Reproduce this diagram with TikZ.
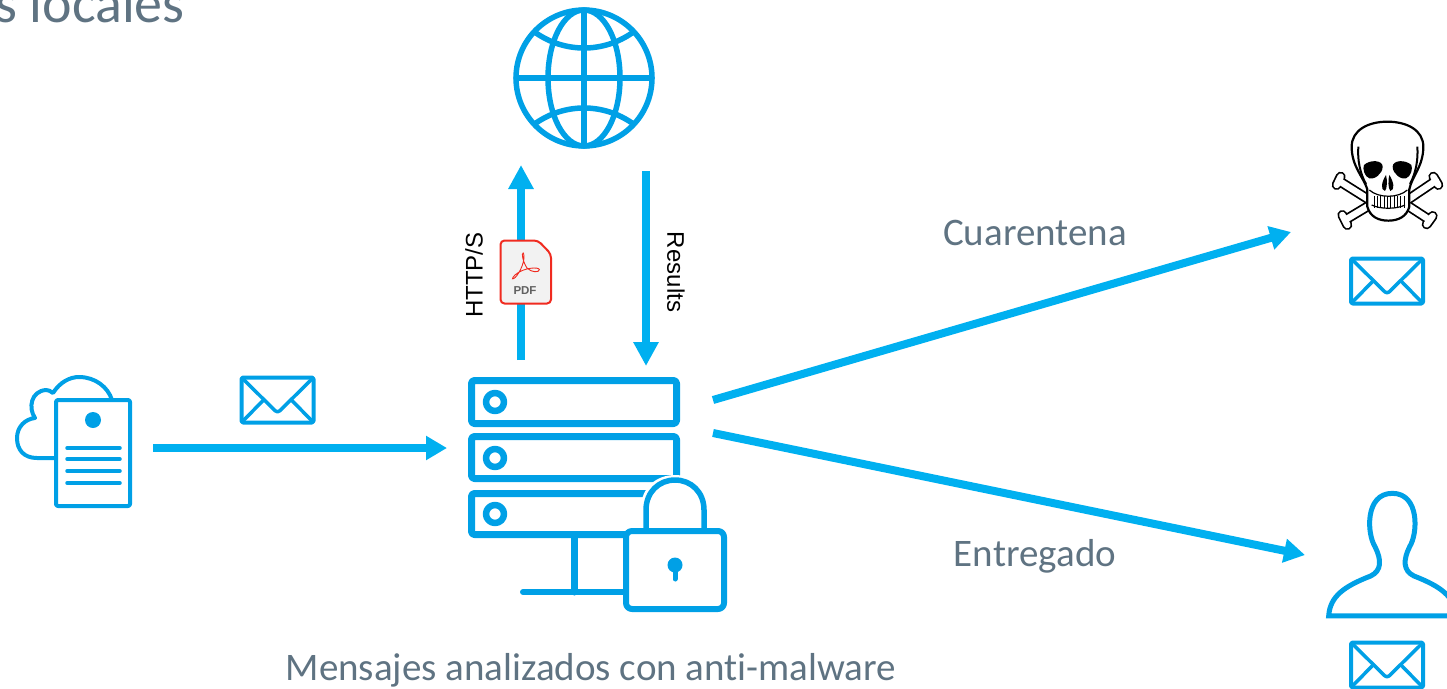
\documentclass[tikz,border=0pt]{standalone}
\usepackage{fontspec}
\setmainfont[Ligatures=NoCommon]{Carlito}
\newfontfamily\arialfont{Liberation Sans}
\usetikzlibrary{arrows.meta}
\definecolor{iconblue}{HTML}{00A0E6}
\definecolor{flowblue}{HTML}{00B0F0}
\definecolor{slategrey}{HTML}{5F7382}
\definecolor{pdfred}{HTML}{F02B20}
\def\bigtext#1{\fontsize{#1}{#1}\selectfont}

\tikzset{
  iconbox/.style={inner sep=0pt,outer sep=0pt},
  icon/.style={draw=iconblue,line join=round,line cap=round},
  flow/.style={draw=flowblue,line width=8pt,-{Triangle[length=21pt,width=23pt]}},
  tagtext/.style={text=slategrey,inner sep=0pt},
  sidetext/.style={text=black,inner sep=0pt,font=\arialfont\bigtext{24}},
  mailpic/.pic={
    \draw[icon,line width=4pt,rounded corners=1.5pt] (-36,-22.5) rectangle (36,22.5);
    \draw[icon,line width=3.5pt,rounded corners=3pt] (-35,-21.5) -- (0,13) -- (35,-21.5);
    \draw[icon,line width=3.5pt] (-35,21.5) -- (-14,0) (35,21.5) -- (14,0);
  }
}

\begin{document}
\begin{tikzpicture}[x=1pt,y=-1pt]
\useasboundingbox (0,0) rectangle (1447,688);
\clip (0,0) rectangle (1447,688);

\node[tagtext,anchor=base east,font=\bigtext{56}] (heading) at (185,23) {s locales};

% boxes the connectors hang on
\node[iconbox,minimum width=138pt,minimum height=120pt] (cloud) at (84,448) {};
\node[iconbox,minimum width=266pt,minimum height=164pt] (server) at (580,448) {};
\node[iconbox,minimum width=142pt,minimum height=174pt] (globe) at (584,78) {};
\node[iconbox,minimum width=156pt,minimum height=160pt] (skull) at (1369,232) {};
\node[iconbox,minimum width=142pt,minimum height=150pt] (person) at (1376,555) {};

\draw[flow] (cloud.east) -- (server.west);
\draw[flow,-{Triangle[length=24pt,width=24pt]}] ([xshift=-59pt,yshift=6pt]server.north) -- ([xshift=-63pt]globe.south);
\draw[flow,-{Triangle[length=24pt,width=24pt]}] ([xshift=62pt,yshift=-6pt]globe.south) -- ([xshift=66pt]server.north);
\draw[flow] ([yshift=48pt]server.east) -- (skull.west);
\draw[flow] ([yshift=15pt]server.east) -- (person.west);

% sender
\draw[icon,line width=4pt] (55,458) -- (37,458) .. controls (24,458) and (17,450) .. (17,438)
  .. controls (17,427) and (25,419) .. (35,418) .. controls (28,408) and (31,391) .. (46,390)
  .. controls (48,390) and (51,391) .. (53,393) .. controls (60,382) and (70,377) .. (79,377)
  .. controls (95,377) and (108,387) .. (112,400);
\draw[icon,line width=4pt,rounded corners=2pt] (56,400) rectangle (130,506);
\fill[iconblue] (93,420) circle (8);
\foreach \y in {448,459,471,483}
  \draw[icon,line width=3.5pt] (67,\y) -- (120,\y);
\pic at (277.5,400) {mailpic};

% globe
\begin{scope}[icon,line width=5.5pt]
  \draw (584,78) circle (68);
  \draw (584,78) ellipse (36 and 68);
  \draw (584,10) -- (584,146) (516,78) -- (652,78);
  \draw (536,33) .. controls (565,53) and (603,53) .. (632,33);
  \draw (536,123) .. controls (565,103) and (603,103) .. (632,123);
\end{scope}

% server and lock
\foreach \ya/\yb/\yc in {380.5/423.5/402,436.5/478.5/458,493.5/534.5/514}{
  \draw[icon,line width=7pt,rounded corners=3pt] (471.5,\ya) rectangle (676.5,\yb);
  \draw[icon,line width=6.5pt] (495,\yc) circle (9);
}
\draw[icon,line width=7pt] (574,538) -- (574,592);
\draw[icon,line width=6pt] (523,592) -- (640,592);
\fill[white] (641,530) -- (641,508) .. controls (641,488) and (656,475) .. (675,475)
  .. controls (694,475) and (709,488) .. (709,508) -- (709,530) -- cycle;
\draw[icon,line width=5.5pt,line cap=butt] (646,530) -- (646,510) .. controls (646,492) and (659,480) .. (675,480)
  .. controls (691,480) and (704,492) .. (704,510) -- (704,530);
\draw[icon,fill=white,line width=6pt,rounded corners=6pt] (626,531) rectangle (724,609);
\fill[iconblue] (675,565) circle (7.5);
\draw[icon,line width=5pt] (675,568) -- (675,579);

% attachment
\draw[draw=pdfred,fill=black!5,line width=2pt,rounded corners=4pt] (500.5,240.5) -- (538,240.5) -- (551,254) -- (551,303.5) -- (500.5,303.5) -- cycle;
\begin{scope}[shift={(440,160)},x=0.3333pt,y=-0.3333pt]
  \draw[pdfred,line width=0.9pt] (250,278) .. controls (243,278) and (250,310) .. (262,325)
    .. controls (275,338) and (298,338) .. (298,329) .. controls (298,320) and (250,322) .. (225,345)
    .. controls (212,358) and (218,360) .. (226,352) .. controls (240,338) and (258,300) .. (250,278);
\end{scope}
\node[iconbox,text=black!62,font=\arialfont\bfseries\bigtext{11.5}] (pdftag) at (525,291) {PDF};

\node[sidetext,rotate=90] (sendtag) at (474,275) {HTTP/S};
\node[sidetext,rotate=-90] (backtag) at (676,272) {Results};

% quarantine
\begin{scope}[shift={(1310,110)},x=0.3333pt,y=-0.3333pt]
  \foreach \ax/\ay/\bx/\by/\cx/\cy/\dx/\dy in {175/268/86/212/92/200/80/225,180/285/105/330/97/315/112/345,295/268/378/212/370/200/385/225,290/285/359/330/350/343/368/318}{
    \draw[black,line width=10pt,line cap=round] (\ax,\ay) -- (\bx,\by) (\cx,\cy) -- (\dx,\dy);
  }
  \foreach \ax/\ay/\bx/\by/\cx/\cy/\dx/\dy in {175/268/86/212/92/200/80/225,180/285/105/330/97/315/112/345,295/268/378/212/370/200/385/225,290/285/359/330/350/343/368/318}{
    \draw[white,line width=6.5pt,line cap=round] (\ax,\ay) -- (\bx,\by) (\cx,\cy) -- (\dx,\dy);
  }
  \draw[black,fill=white,line width=2.2pt] (172,238) .. controls (160,200) and (125,170) .. (125,110)
    .. controls (125,60) and (175,35) .. (232,35) .. controls (290,35) and (340,60) .. (340,110)
    .. controls (340,170) and (305,200) .. (298,238) -- (298,290) .. controls (290,320) and (265,332) .. (235,332)
    .. controls (205,332) and (180,320) .. (172,290) -- cycle;
  \draw[black,line width=2pt] (145,110) .. controls (142,150) and (150,190) .. (168,222);
  \draw[black,line width=2pt] (322,110) .. controls (325,150) and (317,190) .. (300,222);
  \fill[black] (162,165) .. controls (180,148) and (218,150) .. (218,170) .. controls (218,192) and (192,210) .. (178,205) .. controls (163,200) and (157,175) .. (162,165);
  \fill[black] (304,165) .. controls (286,148) and (248,150) .. (248,170) .. controls (248,192) and (274,210) .. (288,205) .. controls (303,200) and (309,175) .. (304,165);
  \fill[black] (228,195) .. controls (215,215) and (210,240) .. (225,243) .. controls (232,235) and (232,210) .. cycle;
  \fill[black] (238,195) .. controls (251,215) and (256,240) .. (241,243) .. controls (234,235) and (234,210) .. cycle;
  \draw[black,line width=1.2pt] (178,240) .. controls (205,265) and (265,265) .. (292,240);
  \draw[black,line width=1.2pt] (185,285) .. controls (210,298) and (260,298) .. (285,285);
  \foreach \x in {192,202,...,282}
    \draw[black,line width=0.7pt] (\x,258) -- (\x,294);
\end{scope}
\pic at (1387,281) {mailpic};

% recipient
\begin{scope}[shift={(1310,480)},x=0.3333pt,y=-0.3333pt]
  \draw[icon,line width=5pt,line join=miter] (56,408) .. controls (60,350) and (100,320) .. (182,288)
    .. controls (215,272) and (215,240) .. (195,200) .. controls (170,160) and (165,40) .. (247,40)
    .. controls (329,40) and (324,160) .. (299,200) .. controls (279,240) and (279,272) .. (312,288)
    .. controls (394,320) and (434,350) .. (438,408) -- cycle;
\end{scope}
\pic at (1387,665) {mailpic};

\node[tagtext,font=\bigtext{39}] (quarantag) at (1035,233) {Cuarentena};
\node[tagtext,font=\bigtext{39}] (delivertag) at (1035,556) {Entregado};
\node[tagtext,anchor=base,font=\bigtext{39}] (scantag) at (591,680) {Mensajes analizados con anti-malware};
\end{tikzpicture}
\end{document}
